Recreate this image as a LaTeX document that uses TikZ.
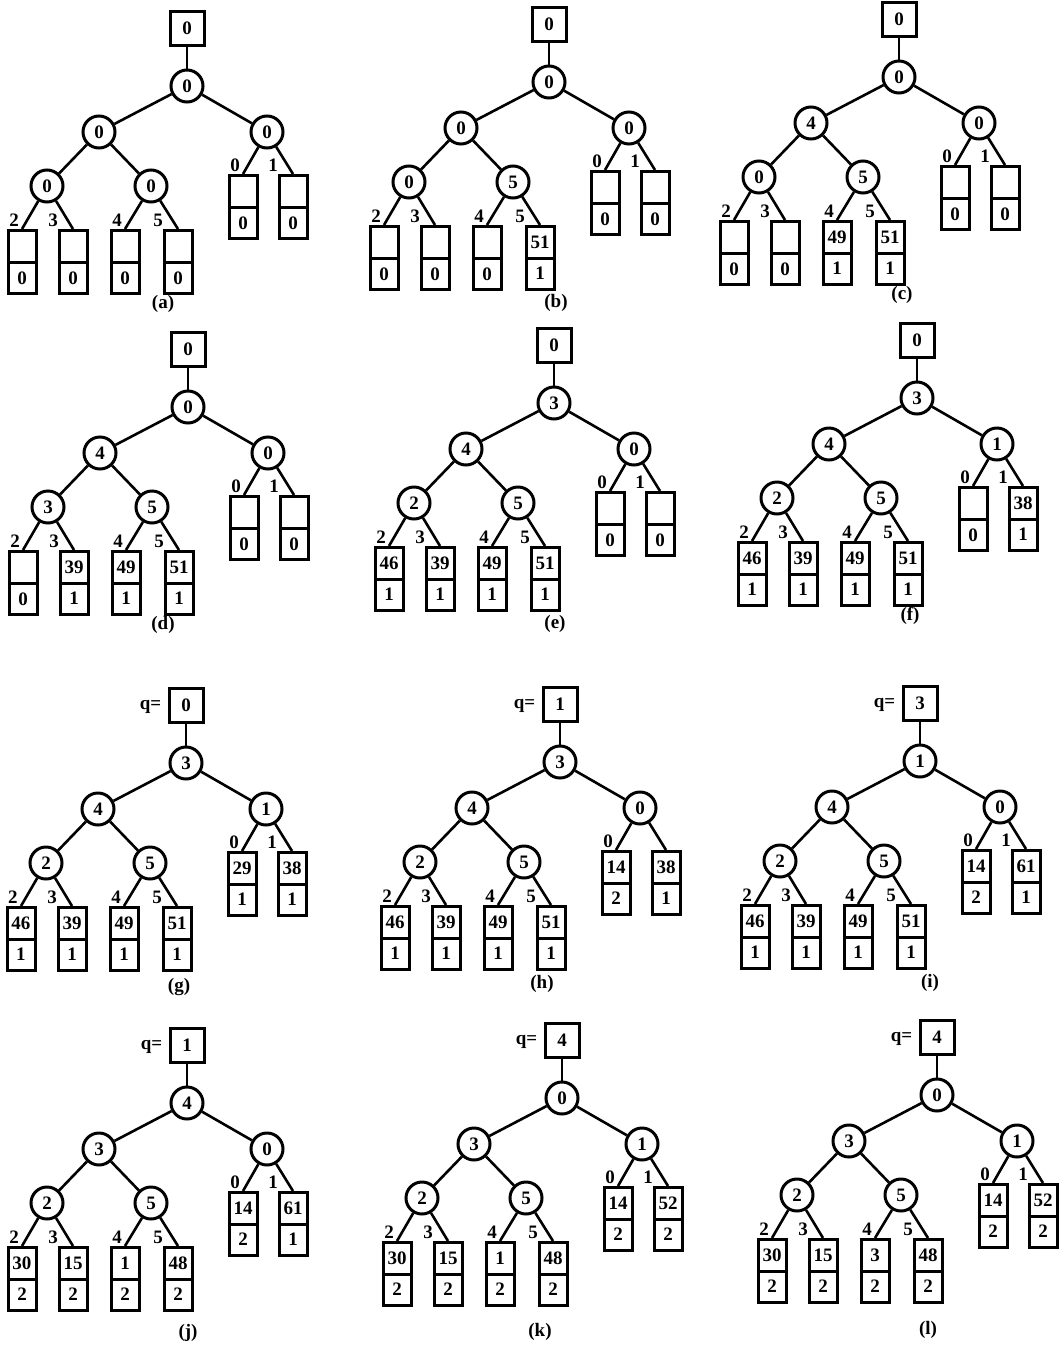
\documentclass[tikz,border=0pt]{standalone}
\usepackage{fontspec}
\setmainfont{Liberation Serif}
\usetikzlibrary{shapes.multipart}

\newcommand{\treefont}{\fontsize{19}{22}\selectfont\bfseries}

% [top box options]{tag}{root position}{top value}{r/l/rr/ll/lr}{leaves idx/key/run}{caption offset}
\newcommand{\losertree}[7][]{%
  \begin{scope}[shift={#3}]
    \node[winbox, #1] (#2-top) at (0,-58) {#4};
    \foreach \vr/\vl/\vrr/\vll/\vlr in {#5}{
      \node[loser] (#2-r) at (0,0) {\vr};
      \node[loser] (#2-l) at (-88,46) {\vl};
      \node[loser] (#2-rr) at (80,46) {\vrr};
      \node[loser] (#2-ll) at (-140,100) {\vll};
      \node[loser] (#2-lr) at (-36,100) {\vlr};
    }
    \draw[link] (#2-top) -- (#2-r);
    \draw[link] (#2-r) -- (#2-l);
    \draw[link] (#2-r) -- (#2-rr);
    \draw[link] (#2-l) -- (#2-ll);
    \draw[link] (#2-l) -- (#2-lr);
    \foreach \lab/\key/\run [count=\i] in {#6}{
      \pgfmathsetmacro{\lx}{{-165,-114,-62,-9,56,106}[\i-1]}
      \pgfmathsetmacro{\ly}{\i>4 ? 88 : 143}
      \pgfmathsetmacro{\ax}{\lx+(isodd(\i) ? -8 : -20)}
      \edef\up{\ifcase\i\or ll\or ll\or lr\or lr\or rr\or rr\fi}
      \node[leafbox, anchor=north] (#2-leaf\i) at (\lx,\ly) {\key\nodepart{two}\run};
      \draw[link] (#2-\up) -- (#2-leaf\i.north);
      \node[idx] (#2-idx\i) at (\ax,\ly-9) {\lab};
    }
    \node[caption] (#2-cap) at #7 {(#2)};
  \end{scope}
}

\begin{document}
\begin{tikzpicture}[
    x=1pt, y=-1pt,
    loser/.style={circle, draw, line width=3pt, minimum size=32pt, inner sep=0pt, font=\treefont},
    winbox/.style={rectangle, draw, line width=3pt, minimum size=34pt, inner sep=0pt, font=\treefont},
    leafbox/.style={rectangle split, rectangle split parts=2, draw, line width=3pt, minimum width=28pt,
        inner xsep=0pt, inner ysep=7.8pt, text height=13pt, text depth=0pt,
        rectangle split empty part height=13pt, font=\treefont},
    link/.style={line width=2.6pt},
    idx/.style={inner sep=0pt, font=\treefont},
    caption/.style={inner sep=0pt, font=\treefont},
    qmark/.style={label={[idx, label distance=6pt, yshift=-2pt]left:q=}}
]
    \useasboundingbox (0,0) rectangle (1060,1347);

    % building the tree
    \losertree{a}{(187,86)}{0}{0/0/0/0/0}{2//0, 3//0, 4//0, 5//0, 0//0, 1//0}{(-24,218)}
    \losertree{b}{(549,82)}{0}{0/0/0/0/5}{2//0, 3//0, 4//0, 5/51/1, 0//0, 1//0}{(7,221)}
    \losertree{c}{(899,77)}{0}{0/4/0/0/5}{2//0, 3//0, 4/49/1, 5/51/1, 0//0, 1//0}{(3,218)}

    \losertree{d}{(188,407)}{0}{0/4/0/3/5}{2//0, 3/39/1, 4/49/1, 5/51/1, 0//0, 1//0}{(-25,218)}
    \losertree{e}{(554,403)}{0}{3/4/0/2/5}{2/46/1, 3/39/1, 4/49/1, 5/51/1, 0//0, 1//0}{(1,221)}
    \losertree{f}{(917,398)}{0}{3/4/1/2/5}{2/46/1, 3/39/1, 4/49/1, 5/51/1, 0//0, 1/38/1}{(-7,218)}

    % replacing the winner
    \losertree[qmark]{g}{(186,763)}{0}{3/4/1/2/5}{2/46/1, 3/39/1, 4/49/1, 5/51/1, 0/29/1, 1/38/1}{(-7,224)}
    \losertree[qmark]{h}{(560,762)}{1}{3/4/0/2/5}{2/46/1, 3/39/1, 4/49/1, 5/51/1, 0/14/2, {}/38/1}{(-18,222)}
    \losertree[qmark]{i}{(920,761)}{3}{1/4/0/2/5}{2/46/1, 3/39/1, 4/49/1, 5/51/1, 0/14/2, 1/61/1}{(10,222)}

    \losertree[qmark]{j}{(187,1103)}{1}{4/3/0/2/5}{2/30/2, 3/15/2, 4/1/2, 5/48/2, 0/14/2, 1/61/1}{(1,230)}
    \losertree[qmark]{k}{(562,1098)}{4}{0/3/1/2/5}{2/30/2, 3/15/2, 4/1/2, 5/48/2, 0/14/2, 1/52/2}{(-22,234)}
    \losertree[qmark]{l}{(937,1095)}{4}{0/3/1/2/5}{2/30/2, 3/15/2, 4/3/2, 5/48/2, 0/14/2, 1/52/2}{(-9,235)}
\end{tikzpicture}
\end{document}
